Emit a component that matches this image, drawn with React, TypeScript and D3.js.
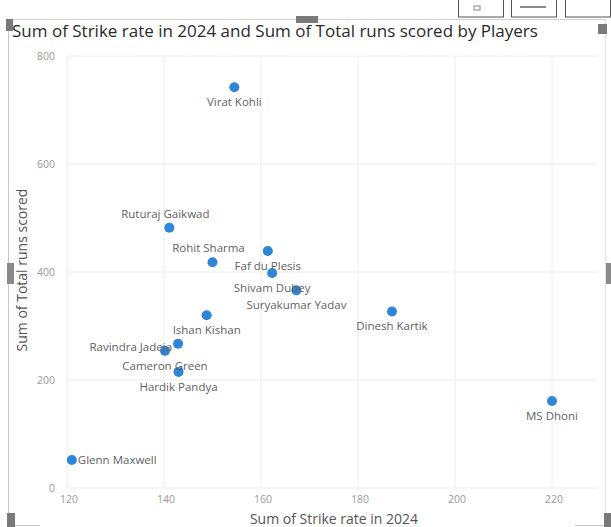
import React from "react";
import * as d3 from "d3";

const players = [
  "Virat Kohli",
  "Ruturaj Gaikwad",
  "Rohit Sharma",
  "Faf du Plesis",
  "Shivam Dubey",
  "Suryakumar Yadav",
  "Dinesh Kartik",
  "MS Dhoni",
  "Ishan Kishan",
  "Ravindra Jadeja",
  "Cameron Green",
  "Hardik Pandya",
  "Glenn Maxwell",
];
const strikeRate = [154.5, 141.1, 150.0, 161.4, 162.3, 167.3, 187.0, 220.0, 148.8, 142.9, 140.2, 143.0, 121.0];
const totalRuns = [742, 482, 418, 439, 398, 366, 327, 161, 320, 267, 254, 215, 52];
// where each data label sits relative to its point
const labelSide = ["below", "above", "above", "below", "below", "below", "below", "below", "below", "left", "below", "below", "right"];

const xTicks = [120, 140, 160, 180, 200, 220];
const yTicks = [0, 200, 400, 600, 800];

const W = 611;
const H = 527;
const M = { left: 67, right: 598, top: 56, bottom: 488 };
const FONT = "'Open Sans', 'DejaVu Sans', sans-serif";

export default function App() {
  const x = d3.scaleLinear().domain([120, 220]).range([M.left, M.left + 485]);
  const y = d3.scaleLinear().domain([0, 800]).range([M.bottom, M.top]);

  return (
    <svg
      width={W}
      height={H}
      viewBox={`0 0 ${W} ${H}`}
      style={{ position: "absolute", left: 0, top: 0, background: "#fff" }}
    >
      {/* visual frame and header buttons */}
      <line x1={8.5} y1={20} x2={8.5} y2={H} stroke="#c8c8c8" />
      <line x1={8} y1={19.5} x2={606} y2={19.5} stroke="#d0d0d0" />
      <line x1={605.5} y1={20} x2={605.5} y2={H} stroke="#e2e2e2" />
      <line x1={8} y1={525.5} x2={40} y2={525.5} stroke="#c8c8c8" />
      <line x1={575} y1={525.5} x2={606} y2={525.5} stroke="#c8c8c8" />
      {[458, 511, 565].map((bx) => (
        <g key={bx}>
          <rect x={bx + 0.5} y={-2} width={45} height={19} fill="#fff" stroke="#555" strokeWidth={1} />
        </g>
      ))}
      <rect x={474} y={6} width={6} height={4} fill="none" stroke="#888" />
      <rect x={520} y={6} width={26} height={2} fill="#888" />
      <rect x={6} y={19} width={7} height={12} fill="#7a7a7a" />
      <rect x={296} y={16} width={22} height={7} fill="#7a7a7a" />
      <rect x={7} y={263} width={7} height={21} fill="#8a8a8a" />
      <rect x={606} y={263} width={5} height={21} fill="#8a8a8a" />
      <rect x={7} y={513} width={8} height={14} fill="#7a7a7a" />
      <rect x={604} y={513} width={7} height={14} fill="#7a7a7a" />
      <rect x={598} y={24} width={9} height={10} fill="#7a7a7a" />

      {/* title */}
      <text x={12} y={37} fontFamily={FONT} fontSize={17} fill="#2a2a2a">
        Sum of Strike rate in 2024 and Sum of Total runs scored by Players
      </text>

      {/* gridlines */}
      {yTicks.map((t) => (
        <line key={"gy" + t} x1={M.left} x2={M.right} y1={y(t)} y2={y(t)} stroke="#ececec" />
      ))}
      {xTicks.map((t) => (
        <line key={"gx" + t} x1={x(t)} x2={x(t)} y1={M.top} y2={M.bottom} stroke="#ececec" />
      ))}

      {/* tick labels */}
      {yTicks.map((t) => (
        <text key={"ty" + t} x={55} y={y(t) + 3.5} textAnchor="end" fontFamily={FONT} fontSize={10.5} fill="#999">
          {t}
        </text>
      ))}
      {xTicks.map((t) => (
        <text key={"tx" + t} x={x(t) + 2} y={503} textAnchor="middle" fontFamily={FONT} fontSize={10.5} fill="#999">
          {t}
        </text>
      ))}

      {/* axis titles */}
      <text x={334} y={524} textAnchor="middle" fontFamily={FONT} fontSize={14} fill="#555">
        Sum of Strike rate in 2024
      </text>
      <text
        transform={`translate(27, ${270}) rotate(-90)`}
        textAnchor="middle"
        fontFamily={FONT}
        fontSize={14}
        fill="#555"
      >
        Sum of Total runs scored
      </text>

      {/* points */}
      {players.map((p, i) => (
        <circle key={"c" + p} cx={x(strikeRate[i])} cy={y(totalRuns[i])} r={5} fill="#2f86d8" />
      ))}

      {/* data labels */}
      {players.map((p, i) => {
        const cx = x(strikeRate[i]);
        const cy = y(totalRuns[i]);
        const side = labelSide[i];
        let tx = cx;
        let ty = cy + 19;
        let anchor: "middle" | "start" | "end" = "middle";
        if (side === "above") {
          tx = cx - 4;
          ty = cy - 10;
        }
        if (side === "left") {
          tx = cx - 6;
          ty = cy + 7;
          anchor = "end";
        }
        if (side === "right") {
          tx = cx + 6;
          ty = cy + 4;
          anchor = "start";
        }
        return (
          <text key={"l" + p} x={tx} y={ty} textAnchor={anchor} fontFamily={FONT} fontSize={11.5} fill="#5f5f5f">
            {p}
          </text>
        );
      })}
    </svg>
  );
}
